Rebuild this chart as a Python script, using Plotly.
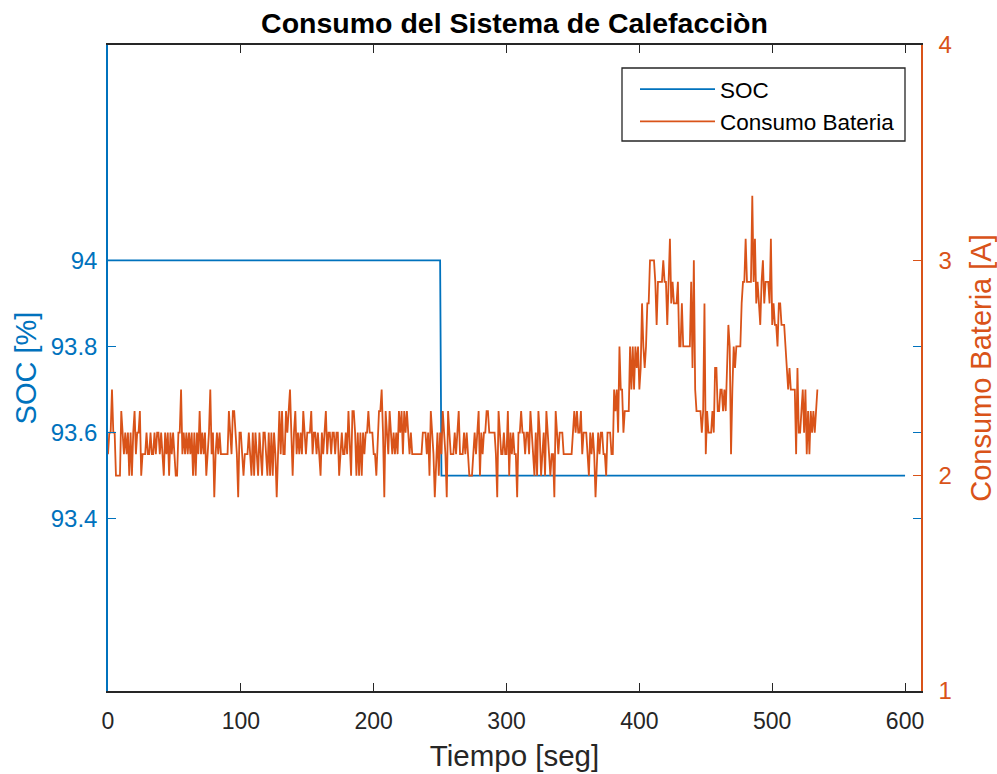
import plotly.graph_objects as go

# Estado de carga (SOC, %) - puntos de cambio de la serie
soc_tiempo = [0, 250, 251, 600]
soc_valor = [94.0, 94.0, 93.5, 93.5]

# Corriente consumida de la bateria [A], una muestra por segundo
PASO_SEG = 1
consumo_bateria = [
    2.1, 2.2, 2.2, 2.4, 2.2, 2.2, 2.0, 2.0, 2.0, 2.0,
    2.3, 2.2, 2.1, 2.2, 2.1, 2.2, 2.0, 2.2, 2.0, 2.2,
    2.3, 2.1, 2.2, 2.2, 2.3, 2.0, 2.1, 2.1, 2.1, 2.2,
    2.1, 2.1, 2.2, 2.1, 2.1, 2.2, 2.1, 2.2, 2.2, 2.1,
    2.2, 2.1, 2.0, 2.2, 2.1, 2.2, 2.0, 2.2, 2.1, 2.2,
    2.1, 2.0, 2.0, 2.2, 2.2, 2.4, 2.1, 2.2, 2.1, 2.2,
    2.1, 2.2, 2.1, 2.2, 2.0, 2.2, 2.0, 2.2, 2.1, 2.3,
    2.1, 2.2, 2.1, 2.2, 2.0, 2.1, 2.2, 2.4, 2.1, 2.2,
    1.9, 2.1, 2.2, 2.1, 2.2, 2.1, 2.1, 2.1, 2.1, 2.1,
    2.1, 2.3, 2.2, 2.1, 2.3, 2.3, 2.2, 2.1, 1.9, 2.2,
    2.2, 2.1, 2.0, 2.1, 2.1, 2.1, 2.2, 2.1, 2.0, 2.2,
    2.0, 2.2, 2.1, 2.0, 2.2, 2.1, 2.0, 2.2, 2.2, 2.1,
    2.0, 2.2, 2.0, 2.2, 2.0, 2.2, 2.1, 1.9, 2.1, 2.3,
    2.1, 2.3, 2.1, 2.1, 2.3, 2.2, 2.3, 2.4, 2.2, 2.0,
    2.2, 2.3, 2.1, 2.2, 2.1, 2.2, 2.1, 2.3, 2.2, 2.1,
    2.2, 2.2, 2.2, 2.3, 2.1, 2.2, 2.2, 2.1, 2.2, 2.1,
    2.0, 2.2, 2.1, 2.2, 2.3, 2.1, 2.2, 2.2, 2.1, 2.2,
    2.2, 2.1, 2.2, 2.2, 2.0, 2.1, 2.2, 2.1, 2.1, 2.2,
    2.1, 2.3, 2.1, 2.0, 2.3, 2.3, 2.2, 2.0, 2.2, 2.0,
    2.2, 2.0, 2.2, 2.1, 2.2, 2.2, 2.3, 2.2, 2.2, 2.2,
    2.1, 2.1, 2.0, 2.2, 2.3, 2.3, 2.4, 2.2, 1.9, 2.3,
    2.2, 2.1, 2.3, 2.2, 2.1, 2.2, 2.1, 2.2, 2.1, 2.3,
    2.2, 2.3, 2.1, 2.3, 2.2, 2.3, 2.2, 2.1, 2.2, 2.1,
    2.1, 2.1, 2.1, 2.1, 2.1, 2.1, 2.1, 2.2, 2.2, 2.2,
    2.1, 2.2, 2.0, 2.3, 2.2, 2.1, 1.9, 2.1, 2.2, 2.0,
    2.2, 2.1, 2.3, 2.2, 2.1, 1.9, 2.3, 2.2, 2.1, 2.1,
    2.1, 2.2, 2.1, 2.2, 2.3, 2.1, 2.1, 2.1, 2.2, 2.1,
    2.2, 2.1, 2.0, 2.0, 2.0, 2.1, 2.2, 2.1, 2.2, 2.3,
    2.0, 2.2, 2.1, 2.2, 2.2, 2.3, 2.3, 2.2, 2.2, 2.2,
    2.2, 2.2, 2.1, 1.9, 2.3, 2.2, 2.1, 2.1, 2.2, 2.1,
    2.1, 2.3, 2.0, 2.2, 2.1, 2.2, 2.1, 2.1, 1.9, 2.2,
    2.2, 2.3, 2.2, 2.2, 2.1, 2.2, 2.2, 2.1, 2.3, 2.2,
    2.1, 2.0, 2.2, 2.0, 2.3, 2.2, 2.0, 2.1, 2.2, 2.0,
    2.3, 2.2, 2.1, 2.0, 2.1, 2.1, 1.9, 2.3, 2.2, 2.1,
    2.2, 2.2, 2.2, 2.1, 2.1, 2.1, 2.1, 2.1, 2.1, 2.1,
    2.2, 2.3, 2.2, 2.3, 2.2, 2.2, 2.3, 2.1, 2.2, 2.2,
    2.2, 2.1, 2.0, 2.2, 2.1, 2.2, 2.1, 1.9, 2.1, 2.2,
    2.1, 2.2, 2.2, 2.1, 2.1, 2.0, 2.2, 2.2, 2.2, 2.1,
    2.1, 2.4, 2.3, 2.4, 2.2, 2.6, 2.4, 2.4, 2.2, 2.3,
    2.3, 2.3, 2.3, 2.6, 2.4, 2.6, 2.4, 2.6, 2.5, 2.6,
    2.4, 2.5, 2.8, 2.6, 2.5, 2.6, 2.8, 2.8, 3.0, 3.0,
    3.0, 3.0, 2.9, 2.7, 2.9, 2.9, 2.9, 2.9, 3.0, 2.9,
    2.9, 2.7, 2.9, 3.1, 2.8, 2.9, 2.8, 2.8, 2.8, 2.9,
    2.6, 2.6, 2.8, 2.6, 2.6, 2.6, 2.6, 2.6, 2.6, 2.9,
    2.5, 3.0, 2.4, 2.3, 2.3, 2.3, 2.3, 2.2, 2.3, 2.8,
    2.1, 2.3, 2.2, 2.2, 2.2, 2.3, 2.2, 2.5, 2.5, 2.3,
    2.3, 2.4, 2.4, 2.3, 2.4, 2.3, 2.5, 2.7, 2.6, 2.1,
    2.4, 2.6, 2.5, 2.6, 2.6, 2.6, 2.6, 2.8, 2.9, 2.9,
    3.1, 2.9, 2.9, 2.9, 2.9, 3.3, 2.9, 3.1, 2.8, 2.9,
    2.8, 2.7, 2.9, 3.0, 2.8, 2.9, 2.9, 2.9, 2.8, 3.1,
    2.7, 2.8, 2.7, 2.7, 2.6, 2.8, 2.8, 2.7, 2.7, 2.7,
    2.6, 2.5, 2.4, 2.5, 2.4, 2.4, 2.4, 2.4, 2.1, 2.5,
    2.2, 2.2, 2.3, 2.4, 2.2, 2.4, 2.1, 2.3, 2.1, 2.3,
    2.2, 2.3, 2.2, 2.3, 2.4,
]
tiempo_bateria = [i * PASO_SEG for i in range(len(consumo_bateria))]

# Ejes y etiquetas
x_ticks = [0, 100, 200, 300, 400, 500, 600]
soc_ticks = [93.4, 93.6, 93.8, 94.0]
soc_tick_text = ["93.4", "93.6", "93.8", "94"]
bat_ticks = [1, 2, 3, 4]

AZUL = "#0072BD"
NARANJA = "#D95319"
GRIS = "#262626"
FUENTE = "Liberation Sans, Arial, Helvetica, sans-serif"

# Area de trazado en pixeles (para ubicar el recuadro de la leyenda)
PX_IZQ, PX_DER, PX_SUP, PX_INF = 108, 921, 45, 691


def px_x(px):
    return (px - PX_IZQ) / (PX_DER - PX_IZQ)


def px_y(py):
    return (PX_INF - py) / (PX_INF - PX_SUP)


fig = go.Figure()
fig.add_trace(go.Scatter(
    x=soc_tiempo, y=soc_valor, name="SOC", mode="lines",
    line=dict(color=AZUL, width=1.8), yaxis="y",
))
fig.add_trace(go.Scatter(
    x=tiempo_bateria, y=consumo_bateria, name="Consumo Bateria", mode="lines",
    line=dict(color=NARANJA, width=1.8), yaxis="y2",
))

# Recuadro de la leyenda
fig.add_shape(
    type="rect", xref="paper", yref="paper",
    x0=px_x(622), x1=px_x(905), y0=px_y(141), y1=px_y(68),
    line=dict(color=GRIS, width=1.3), fillcolor="white", layer="above",
)

fig.update_layout(
    width=997, height=774,
    margin=dict(l=PX_IZQ, r=997 - PX_DER, t=PX_SUP, b=774 - PX_INF),
    paper_bgcolor="white", plot_bgcolor="white",
    font=dict(family=FUENTE, color=GRIS),
    title=dict(
        text="<b>Consumo del Sistema de Calefacciòn</b>",
        font=dict(size=28.5, color="black", family=FUENTE),
        x=0.5, xref="paper", xanchor="center",
        y=1 - 23 / 774, yref="container", yanchor="middle",
    ),
    xaxis=dict(
        range=[0, 612], tickvals=x_ticks, automargin=False,
        ticks="inside", ticklen=8, tickwidth=1.3, tickcolor=GRIS,
        showline=True, linecolor=GRIS, linewidth=1.5, mirror="ticks",
        showgrid=False, zeroline=False,
        tickfont=dict(size=23, color=GRIS), ticklabelstandoff=9,
        title=dict(text="Tiempo [seg]", font=dict(size=29.5, color=GRIS), standoff=12),
    ),
    yaxis=dict(
        range=[93.0, 94.5], tickvals=soc_ticks, ticktext=soc_tick_text,
        automargin=False,
        ticks="inside", ticklen=8, tickwidth=1.3, tickcolor=AZUL,
        showline=True, linecolor=AZUL, linewidth=1.5, mirror="ticks",
        showgrid=False, zeroline=False,
        tickfont=dict(size=24, color=AZUL), ticklabelstandoff=4,
        title=dict(text="SOC [%]", font=dict(size=29, color=AZUL), standoff=6),
    ),
    yaxis2=dict(
        overlaying="y", side="right", automargin=False,
        range=[1, 4], tickvals=bat_ticks,
        ticks="inside", ticklen=8, tickwidth=1.3, tickcolor=NARANJA,
        showline=True, linecolor=NARANJA, linewidth=1.5,
        showgrid=False, zeroline=False,
        tickfont=dict(size=24, color=NARANJA), ticklabelstandoff=11,
        title=dict(text="Consumo Bateria [A]", font=dict(size=29, color=NARANJA), standoff=24),
    ),
    legend=dict(
        x=px_x(635), xanchor="left",
        y=px_y(68), yanchor="top",
        bgcolor="rgba(0,0,0,0)", borderwidth=0,
        font=dict(size=22.5, color="black"),
        itemwidth=75, tracegroupgap=0,
    ),
    showlegend=True,
)

fig.write_html("out.html")
